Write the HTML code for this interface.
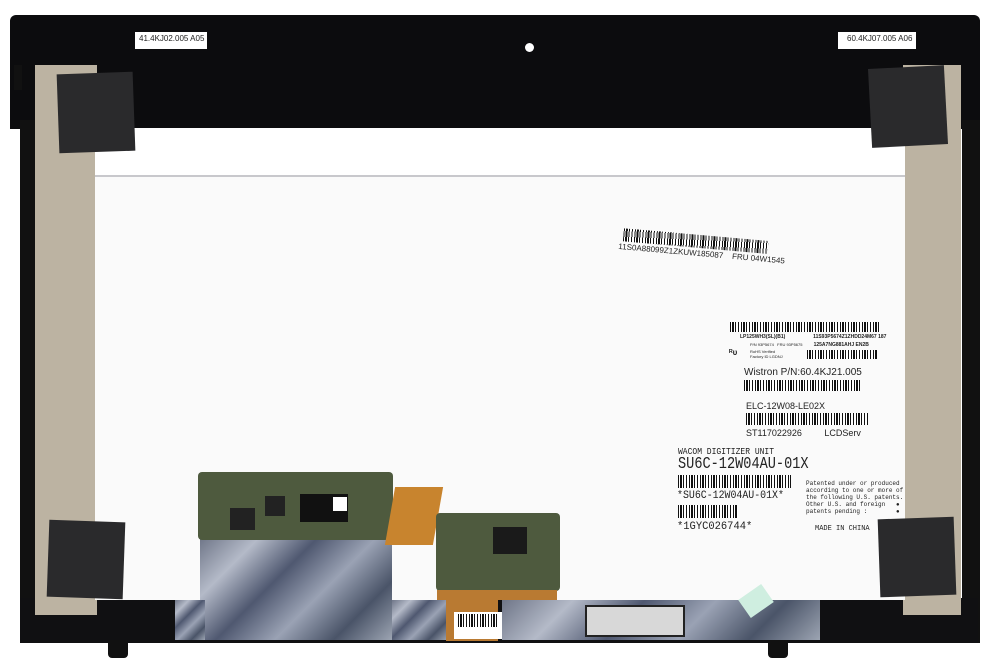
<!DOCTYPE html>
<html><head><meta charset="utf-8"><style>
*{margin:0;padding:0;box-sizing:border-box}
body{width:1000px;height:671px;background:#fff;position:relative;overflow:hidden;font-family:"Liberation Sans",sans-serif}
.a{position:absolute}
.bc{position:absolute;background:repeating-linear-gradient(90deg,#111 0 1px,#fff 1px 2px,#111 2px 4px,#fff 4px 5px,#111 5px 6px,#fff 6px 8px,#111 8px 9px,#fff 9px 11px)}
.t{position:absolute;white-space:nowrap;color:#222}
.m{font-family:"Liberation Mono",monospace}
.foil{background:linear-gradient(135deg,#6f7688,#b4bac8 20%,#4f5870 40%,#9aa2b4 60%,#4a5468 80%,#9ca4b2)}
.pcb{background:#4e5a3e}
</style></head><body>
<!-- frame -->
<div class="a" style="left:10px;top:15px;width:970px;height:114px;background:#0c0c0e;border-radius:6px 6px 0 0"></div>
<div class="a" style="left:20px;top:120px;width:16px;height:523px;background:#111"></div>
<div class="a" style="left:962px;top:120px;width:18px;height:523px;background:#111"></div>
<div class="a" style="left:20px;top:598px;width:958px;height:45px;background:#101012"></div>
<div class="a" style="left:108px;top:640px;width:20px;height:18px;background:#111;border-radius:0 0 4px 4px"></div>
<div class="a" style="left:768px;top:640px;width:20px;height:18px;background:#111;border-radius:0 0 4px 4px"></div>
<div class="a" style="left:14px;top:65px;width:8px;height:25px;background:#111"></div>
<!-- tapes -->
<div class="a" style="left:35px;top:65px;width:62px;height:550px;background:#bcb3a2"></div>
<div class="a" style="left:903px;top:65px;width:58px;height:550px;background:#bcb3a2"></div>
<!-- panel -->
<div class="a" style="left:95px;top:128px;width:810px;height:472px;background:#fafafa"></div>
<div class="a" style="left:95px;top:128px;width:810px;height:47px;background:#fff"></div>
<div class="a" style="left:95px;top:175px;width:810px;height:2px;background:#c8c8cc"></div>
<!-- top labels -->
<div class="a" style="left:135px;top:32px;width:72px;height:17px;background:#fff"></div>
<div class="t" style="left:139px;top:34px;font-size:8px">41.4KJ02.005 A05</div>
<div class="a" style="left:838px;top:32px;width:78px;height:17px;background:#fff"></div>
<div class="t" style="left:847px;top:34px;font-size:8px">60.4KJ07.005 A06</div>
<div class="a" style="left:525px;top:43px;width:9px;height:9px;background:#fff;border-radius:50%"></div>
<!-- black squares -->
<div class="a" style="left:58px;top:73px;width:76px;height:79px;background:#2a2a2c;transform:rotate(-2deg)"></div>
<div class="a" style="left:870px;top:67px;width:76px;height:79px;background:#2a2a2c;transform:rotate(-3deg)"></div>
<div class="a" style="left:48px;top:521px;width:76px;height:77px;background:#2a2a2c;transform:rotate(2deg)"></div>
<div class="a" style="left:879px;top:518px;width:76px;height:78px;background:#2a2a2c;transform:rotate(-2deg)"></div>
<!-- rotated barcode -->
<div class="a" style="left:620px;top:228px;transform:rotate(5deg);transform-origin:0 0">
<div class="bc" style="left:4px;top:0;width:145px;height:13px"></div>
<div class="t" style="left:0;top:14px;font-size:8px">11S0A88099Z1ZKUW185087 &nbsp;&nbsp;&nbsp;FRU 04W1545</div>
</div>
<!-- label block -->
<div class="bc" style="left:730px;top:322px;width:150px;height:10px"></div>
<div class="t" style="left:740px;top:334px;font-size:5px;font-weight:bold">LP125WH3(SL)(B1) &nbsp;&nbsp;&nbsp;&nbsp;&nbsp;&nbsp;&nbsp;&nbsp;&nbsp;&nbsp;&nbsp;&nbsp;&nbsp;&nbsp;&nbsp;&nbsp;&nbsp;&nbsp;&nbsp;11S93P5674Z1ZHDD24M67 187</div>
<div class="t" style="left:750px;top:342px;font-size:4px">P/N 93P5674 &nbsp;&nbsp;FRU 93P5675 &nbsp;&nbsp;&nbsp;&nbsp;&nbsp;&nbsp;&nbsp;&nbsp;&nbsp;<b style="font-size:5px">125A7NG881AHJ EN2B</b></div>
<div class="t" style="left:750px;top:349px;font-size:4px">RoHS Verified<br>Factory ID LGDNJ</div>
<div class="t" style="left:729px;top:348px;font-size:8px;font-weight:bold">ᴿᴜ</div>
<div class="bc" style="left:807px;top:350px;width:70px;height:9px"></div>
<div class="t" style="left:744px;top:367px;font-size:10px">Wistron P/N:60.4KJ21.005</div>
<div class="bc" style="left:744px;top:380px;width:116px;height:11px"></div>
<div class="t" style="left:746px;top:401px;font-size:9px">ELC-12W08-LE02X</div>
<div class="bc" style="left:746px;top:413px;width:122px;height:12px"></div>
<div class="t" style="left:746px;top:428px;font-size:9px">ST117022926 &nbsp;&nbsp;&nbsp;&nbsp;&nbsp;&nbsp;&nbsp;&nbsp;LCDServ</div>
<div class="t m" style="left:678px;top:447px;font-size:8px;transform:scaleY(1.2);transform-origin:0 0">WACOM DIGITIZER UNIT</div>
<div class="t m" style="left:678px;top:455px;font-size:17px;transform:scaleX(0.8);transform-origin:0 0">SU6C-12W04AU-01X</div>
<div class="bc" style="left:678px;top:475px;width:113px;height:13px"></div>
<div class="t m" style="left:677px;top:490px;font-size:11px;transform:scaleX(0.9);transform-origin:0 0">*SU6C-12W04AU-01X*</div>
<div class="bc" style="left:678px;top:505px;width:60px;height:13px"></div>
<div class="t m" style="left:677px;top:521px;font-size:11px;transform:scaleX(0.95);transform-origin:0 0">*1GYC026744*</div>
<div class="t m" style="left:806px;top:480px;font-size:6px;line-height:7px">Patented under or produced<br>according to one or more of<br>the following U.S. patents.<br>Other U.S. and foreign &nbsp;&nbsp;●<br>patents pending : &nbsp;&nbsp;&nbsp;&nbsp;&nbsp;&nbsp;&nbsp;●</div>
<div class="t m" style="left:815px;top:525px;font-size:7px">MADE IN CHINA</div>
<!-- boards -->
<div class="a foil" style="left:200px;top:538px;width:192px;height:102px"></div>
<div class="a foil" style="left:175px;top:600px;width:30px;height:40px"></div>
<div class="a pcb" style="left:198px;top:472px;width:195px;height:68px;border-radius:4px"></div>
<div class="a" style="left:230px;top:508px;width:25px;height:22px;background:#222"></div>
<div class="a" style="left:265px;top:496px;width:20px;height:20px;background:#222"></div>
<div class="a" style="left:300px;top:494px;width:48px;height:28px;background:#111"></div>
<div class="a" style="left:333px;top:497px;width:14px;height:14px;background:#fff"></div>
<div class="a" style="left:390px;top:487px;width:48px;height:58px;background:#c8842e;transform:skewX(-10deg)"></div>
<div class="a foil" style="left:392px;top:600px;width:55px;height:40px"></div>
<div class="a" style="left:446px;top:585px;width:52px;height:56px;background:#b97a32"></div>
<div class="a pcb" style="left:436px;top:513px;width:124px;height:78px;border-radius:4px"></div>
<div class="a" style="left:493px;top:527px;width:34px;height:27px;background:#1a1a1a"></div>
<div class="a" style="left:437px;top:590px;width:120px;height:10px;background:#b97a32"></div>
<div class="a" style="left:454px;top:612px;width:48px;height:27px;background:#fff"></div>
<div class="bc" style="left:458px;top:614px;width:40px;height:13px"></div>
<div class="a foil" style="left:502px;top:600px;width:318px;height:40px"></div>
<div class="a" style="left:585px;top:605px;width:100px;height:32px;background:#d8d8d8;border:2px solid #222"></div>
<div class="a" style="left:742px;top:590px;width:28px;height:22px;background:#cfeee0;transform:rotate(-35deg)"></div>
</body></html>
